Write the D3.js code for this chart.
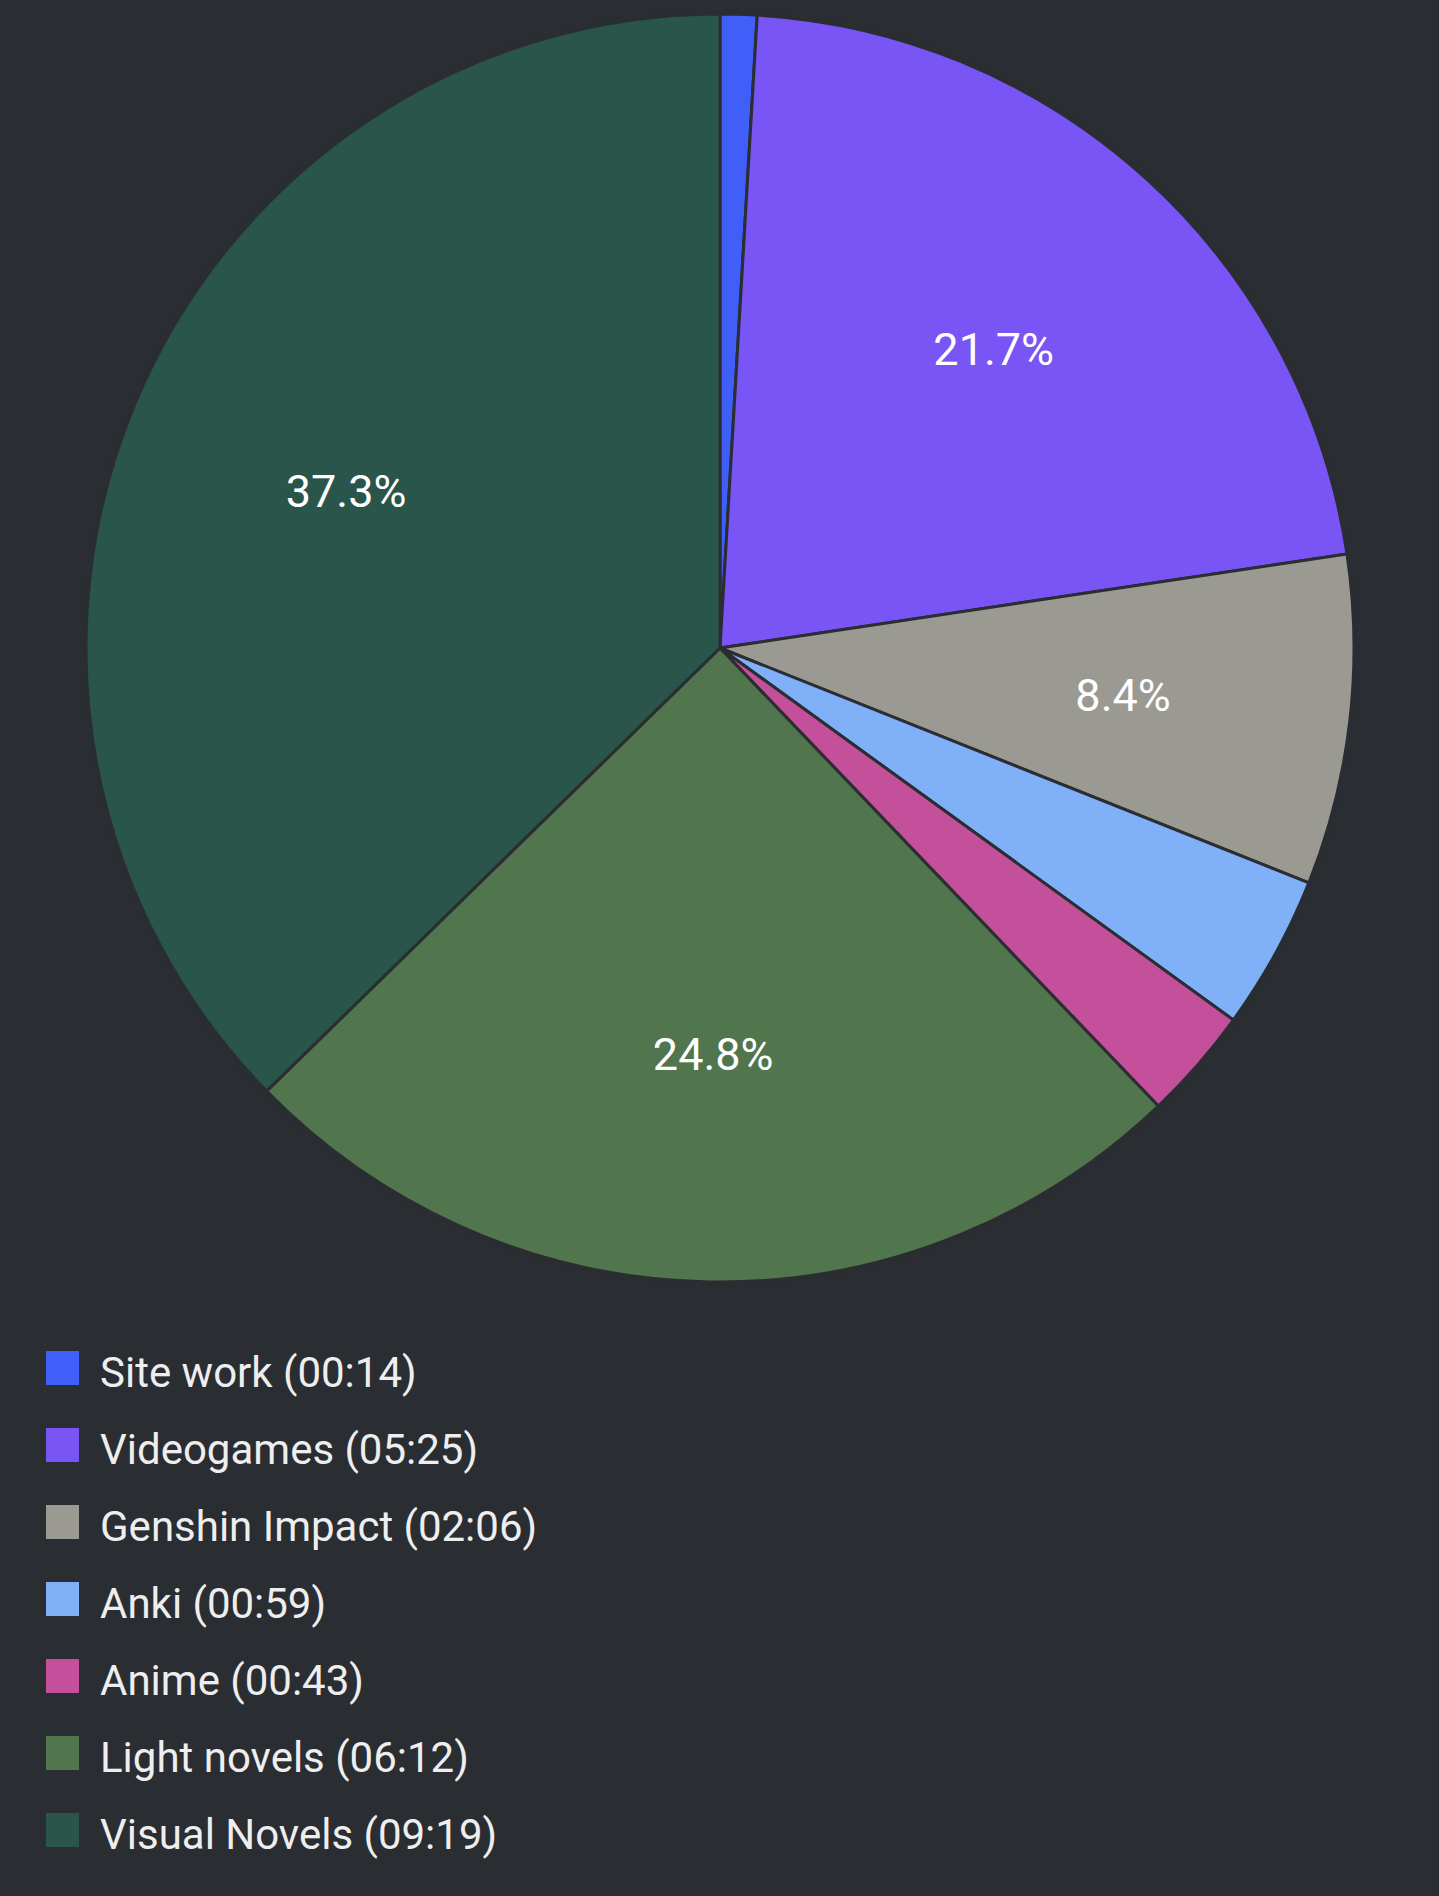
<!DOCTYPE html>
<html><head><meta charset="utf-8">
<script src="https://cdn.jsdelivr.net/npm/d3@7"></script>
<style>
html,body{margin:0;padding:0;background:#2a2d32;}
svg{display:block;}
</style></head>
<body>
<svg id="chart" width="1439" height="1896"></svg>
<script>
const categories = ["Site work","Videogames","Genshin Impact","Anki","Anime","Light novels","Visual Novels"];
const durations = ["00:14","05:25","02:06","00:59","00:43","06:12","09:19"];
const minutes = [14,325,126,59,43,372,559];
const colors = ["#3f5ff8","#7a55f5","#9b9a92","#80b0f7","#c44f9b","#51754d","#29554a"];

const W = 1439, H = 1896;
const cx = 720, cy = 648, R = 634;
const svg = d3.select("#chart");
svg.append("rect").attr("width",W).attr("height",H).attr("fill","#2a2d32");

const data = categories.map((c,i)=>({name:c, dur:durations[i], v:minutes[i], color:colors[i]}));
const total = d3.sum(minutes);
const pie = d3.pie().value(d=>d.v).sort(null);
const arcs = pie(data);
const arc = d3.arc().innerRadius(0).outerRadius(R);
const labelArc = d3.arc().innerRadius(R*0.64).outerRadius(R*0.64);

const g = svg.append("g").attr("transform",`translate(${cx},${cy})`);
g.selectAll("path").data(arcs).join("path")
  .attr("d",arc).attr("fill",d=>d.data.color)
  .attr("stroke","#2a2d32").attr("stroke-width",3).attr("stroke-linejoin","round");

g.selectAll("text").data(arcs.filter(d=>d.data.v/total>=0.05)).join("text")
  .attr("transform",d=>`translate(${labelArc.centroid(d)})`)
  .attr("text-anchor","middle").attr("dy","0.36em")
  .attr("font-family","Roboto, sans-serif").attr("font-size",45)
  .attr("fill","#ffffff")
  .text(d=>(d.data.v/total*100).toFixed(1)+"%");

const lg = svg.append("g");
const rows = lg.selectAll("g").data(data).join("g")
  .attr("transform",(d,i)=>`translate(46,${1368+i*77})`);
rows.append("rect").attr("x",0).attr("y",-17).attr("width",33).attr("height",34).attr("fill",d=>d.color);
rows.append("text").attr("x",54).attr("y",19)
  .attr("font-family","Roboto, sans-serif").attr("font-size",42)
  .attr("fill","#eeeeee")
  .text(d=>`${d.name} (${d.dur})`);
</script>
</body></html>
